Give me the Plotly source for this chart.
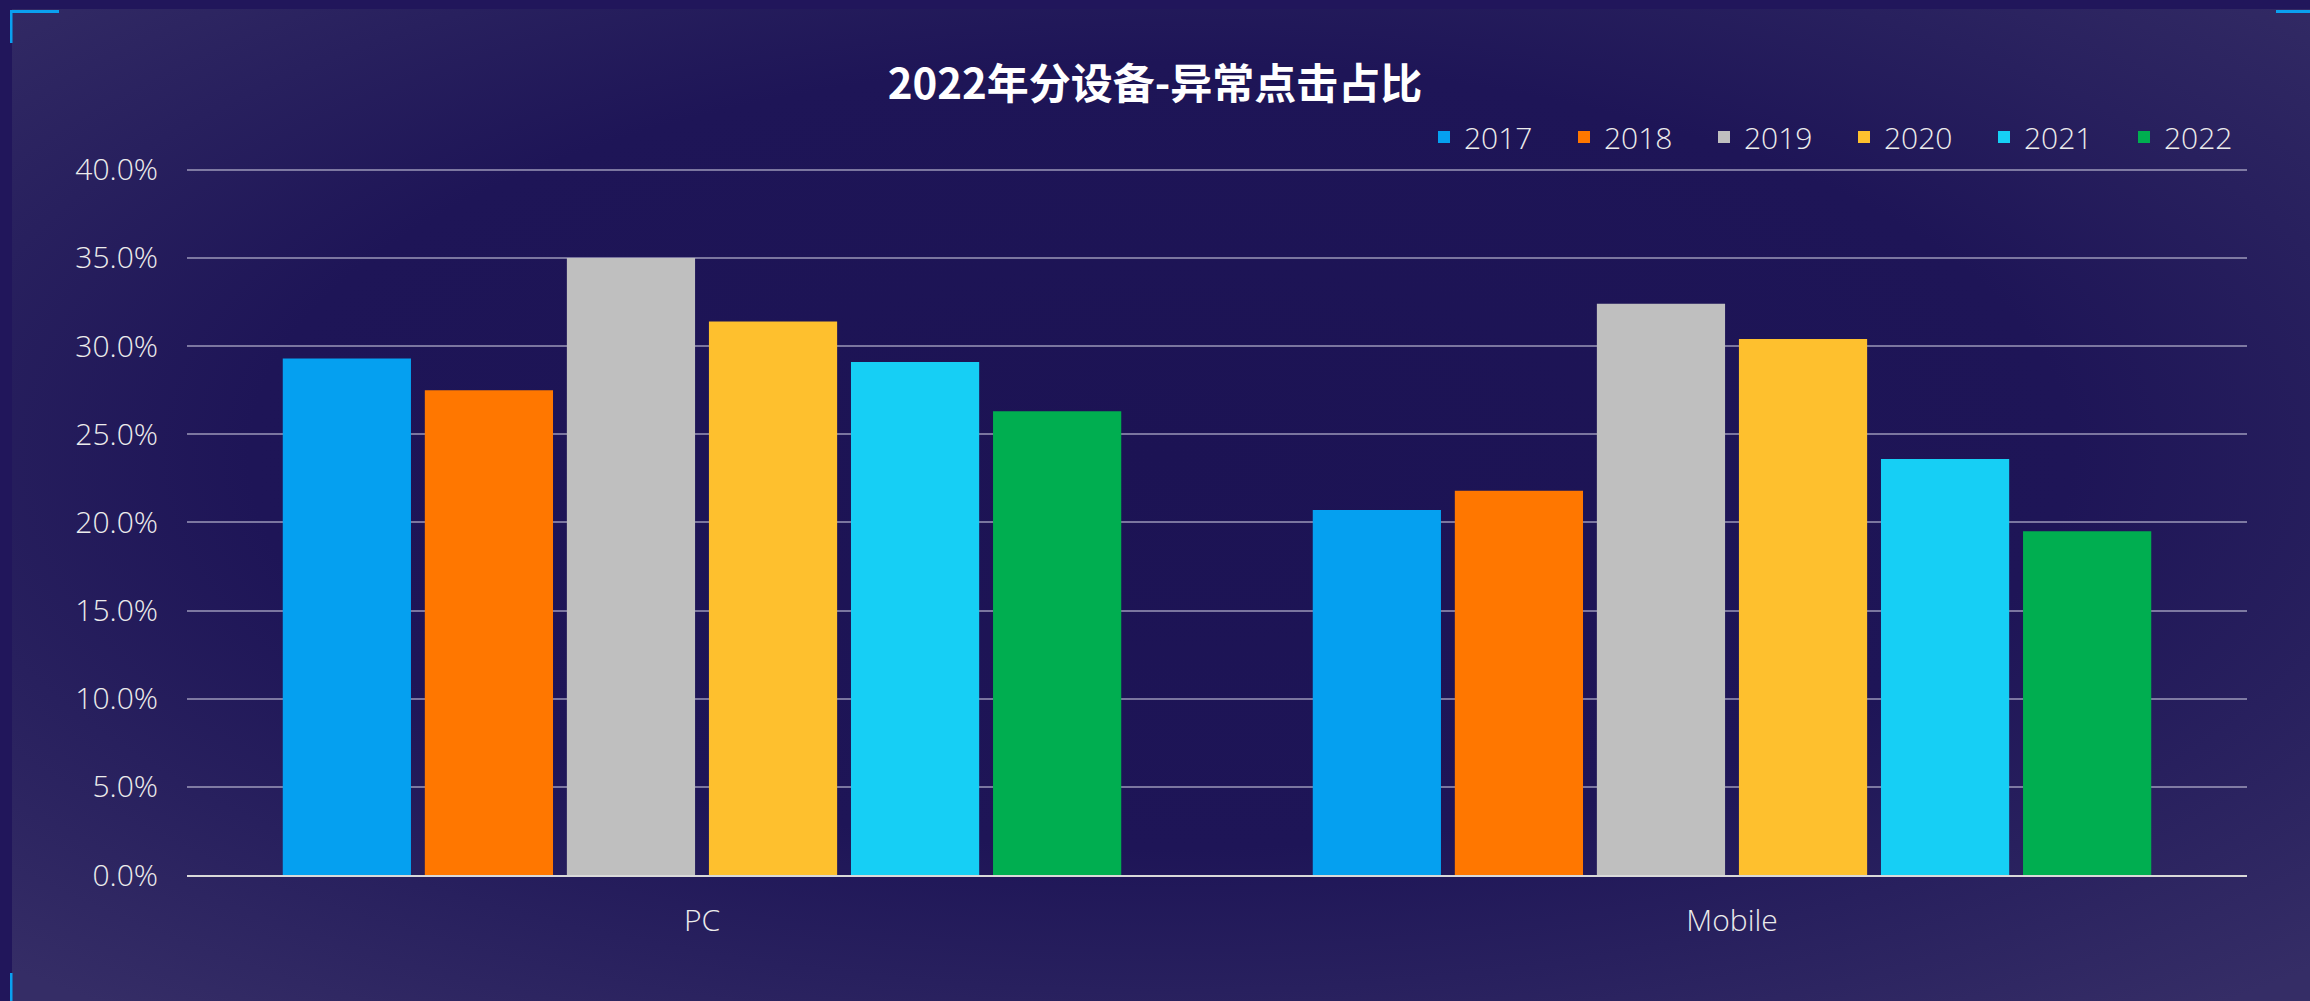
import base64
import plotly.graph_objects as go

# ---------------- data ----------------
categories = ["PC", "Mobile"]
years = ["2017", "2018", "2019", "2020", "2021", "2022"]
v2017 = [0.293, 0.207]
v2018 = [0.275, 0.218]
v2019 = [0.350, 0.324]
v2020 = [0.314, 0.304]
v2021 = [0.291, 0.236]
v2022 = [0.263, 0.195]
series_values = [v2017, v2018, v2019, v2020, v2021, v2022]
colors = ["#05a0f0", "#ff7700", "#bfbfbf", "#fec02e", "#16cff5", "#00ae50"]
title_text = "2022年分设备-异常点击占比"
y_ticks = [0, 0.05, 0.10, 0.15, 0.20, 0.25, 0.30, 0.35, 0.40]

W, H = 2310, 1001
L, R, T, B = 187, 63, 168, 126
PW, PH = W - L - R, H - T - B

# ---------------- background (gradient panel + corner brackets) ----------------
svg = f'''<svg xmlns="http://www.w3.org/2000/svg" width="{W}" height="{H}" viewBox="0 0 {W} {H}" preserveAspectRatio="none">
<defs>
<radialGradient id="g" cx="50%" cy="45%" r="72%">
<stop offset="0" stop-color="#1c1354"/>
<stop offset="0.55" stop-color="#1e1557"/>
<stop offset="0.75" stop-color="#28205e"/>
<stop offset="1" stop-color="#352d66"/>
</radialGradient>
</defs>
<rect x="0" y="0" width="{W}" height="{H}" fill="#21165b"/>
<rect x="12" y="9" width="{W-12}" height="{H-9}" fill="url(#g)"/>
<rect x="10" y="10" width="49" height="3" fill="#0aa0f0"/>
<rect x="10" y="10" width="2.5" height="33" fill="#0aa0f0"/>
<rect x="2276" y="10" width="34" height="3" fill="#0aa0f0"/>
<rect x="10" y="973" width="2.5" height="28" fill="#0aa0f0"/>
</svg>'''
bg_src = "data:image/svg+xml;base64," + base64.b64encode(svg.encode("utf-8")).decode("ascii")

fig = go.Figure()
for name, vals, col in zip(years, series_values, colors):
    fig.add_trace(go.Bar(
        x=categories, y=vals, name=name,
        marker=dict(color=col, line=dict(width=0)),
    ))

light_font = dict(family="Open Sans, Noto Sans, sans-serif", size=30, color="#ececec", weight=300)

fig.update_layout(
    width=W, height=H,
    margin=dict(l=L, r=R, t=T, b=B, pad=0),
    paper_bgcolor="#1e1557",
    plot_bgcolor="rgba(0,0,0,0)",
    barmode="group",
    bargap=0.1725,
    bargroupgap=0.0975,
    title=dict(
        text=title_text,
        x=0.5, xref="container", xanchor="center",
        y=1 - 84 / H, yref="container", yanchor="middle",
        font=dict(family="Noto Sans CJK SC, sans-serif", size=42, color="#ffffff", weight="bold"),
    ),
    legend=dict(
        orientation="h",
        x=(1424 - L) / PW, xanchor="left",
        y=(H - B - 137) / PH, yanchor="middle",
        font=light_font,
        bgcolor="rgba(0,0,0,0)",
        entrywidthmode="pixels",
        entrywidth=95,
        traceorder="normal",
    ),
    xaxis=dict(
        showline=True, linecolor="#d9d9d9", linewidth=2,
        showgrid=False, ticks="", zeroline=False,
        tickfont=light_font,
        ticklabelstandoff=18,
    ),
    yaxis=dict(
        range=[0, 0.401],
        tickvals=y_ticks,
        tickformat=".1%",
        showgrid=True, gridcolor="rgba(200,198,220,0.55)", gridwidth=1.5,
        zeroline=False, showline=False, ticks="",
        tickfont=light_font,
        ticklabelstandoff=28,
    ),
    images=[dict(
        source=bg_src, xref="paper", yref="paper",
        x=-L / PW, y=1 + T / PH, sizex=W / PW, sizey=H / PH,
        xanchor="left", yanchor="top", sizing="stretch", layer="below",
    )],
    showlegend=True,
)

fig.write_html(
    "out.html",
    config={"displayModeBar": False},
    post_script="document.body.style.margin='0';document.body.style.overflow='hidden';",
)
